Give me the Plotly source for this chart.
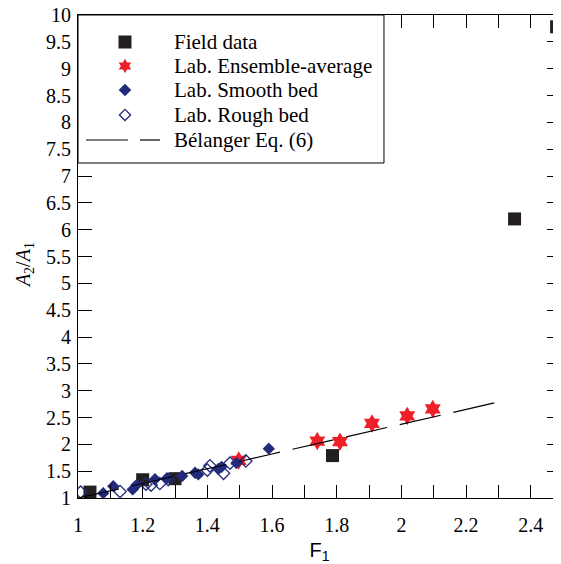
import math
import plotly.graph_objects as go

# ---- data ----
field_x = [1.037, 1.20, 1.30, 1.787, 2.35, 2.48]
field_y = [1.11, 1.34, 1.36, 1.79, 6.20, 9.78]

ens_x = [1.497, 1.74, 1.81, 1.909, 2.018, 2.097]
ens_y = [1.70, 2.06, 2.05, 2.39, 2.53, 2.66]

smooth_x = [1.078, 1.109, 1.169, 1.181, 1.238, 1.275, 1.322, 1.362, 1.372,
            1.434, 1.444, 1.490, 1.590]
smooth_y = [1.09, 1.22, 1.16, 1.24, 1.35, 1.37, 1.41, 1.47, 1.44,
            1.54, 1.58, 1.65, 1.92]

rough_x = [1.008, 1.130, 1.210, 1.226, 1.253, 1.279, 1.400, 1.408, 1.450,
           1.470, 1.519]
rough_y = [1.11, 1.12, 1.26, 1.24, 1.27, 1.34, 1.52, 1.60, 1.46,
           1.65, 1.69]

bel_x = [1.0, 1.1, 1.2, 1.3, 1.4, 1.5, 1.6, 1.7, 1.8, 1.9, 2.0, 2.1, 2.2, 2.3]
bel_y = [1.00, 1.13, 1.27, 1.41, 1.54, 1.68, 1.82, 1.96, 2.09, 2.23, 2.37,
         2.51, 2.65, 2.79]

x_tickvals = [1.0, 1.1, 1.2, 1.3, 1.4, 1.5, 1.6, 1.7, 1.8, 1.9, 2.0, 2.1,
              2.2, 2.3, 2.4]
x_ticktext = ["1", " ", "1.2", " ", "1.4", " ", "1.6", " ", "1.8", " ", "2", " ",
              "2.2", " ", "2.4"]

legend_names = ["Field data", "Lab. Ensemble-average", "Lab. Smooth bed",
                "Lab. Rough bed", "Bélanger Eq. (6)"]

NAVY = "#232a7c"
RED = "#ee1f26"
BLACK = "#231f20"
SERIF = "Liberation Serif, Times New Roman, DejaVu Serif, serif"
SANS = "Liberation Sans, Arial, sans-serif"

fig = go.Figure()
fig.add_trace(go.Scatter(x=field_x, y=field_y, mode="markers", name=legend_names[0],
                         cliponaxis=False,
                         marker=dict(symbol="square", size=13, color=BLACK)))
fig.add_trace(go.Scatter(x=ens_x, y=ens_y, mode="markers", name=legend_names[1],
                         marker=dict(symbol="hexagram", size=14, color=RED)))
fig.add_trace(go.Scatter(x=smooth_x, y=smooth_y, mode="markers", name=legend_names[2],
                         marker=dict(symbol="diamond", size=9.5, color=NAVY)))
fig.add_trace(go.Scatter(x=rough_x, y=rough_y, mode="markers", name=legend_names[3],
                         marker=dict(symbol="diamond-open", size=9.5, color=NAVY,
                                     line=dict(width=1.3, color=NAVY))))
fig.add_trace(go.Scatter(x=bel_x, y=bel_y, mode="lines", name=legend_names[4],
                         line=dict(color="black", width=1.2, dash="42px,13px")))

# ---- hand-drawn legend (box, glyphs, labels) ----
LX0, LX1, LY0, LY1 = 0.0, 0.6335, 0.6936, 1.0
row_y = [0.9441, 0.8944, 0.8447, 0.7930, 0.7412]
glyph_x = 0.0973
text_x = 0.1946

def hexagram_path(R):
    pts = []
    for k in range(12):
        ang = math.pi / 2 + k * math.pi / 6
        rad = R if k % 2 == 0 else R / math.sqrt(3)
        pts.append((rad * math.cos(ang), rad * math.sin(ang)))
    return "M" + " L".join(f"{x:.2f},{y:.2f}" for x, y in pts) + " Z"

def glyph(path, fill, line_color, line_width, y):
    return dict(type="path", path=path, xref="paper", yref="paper",
                xsizemode="pixel", ysizemode="pixel", xanchor=glyph_x, yanchor=y,
                fillcolor=fill, line=dict(color=line_color, width=line_width),
                layer="above")

shapes = [dict(type="rect", xref="paper", yref="paper", x0=LX0, x1=LX1, y0=LY0, y1=LY1,
               fillcolor="white", line=dict(color="black", width=1), layer="above")]
shapes.append(glyph("M-6.5,-6.5 L6.5,-6.5 L6.5,6.5 L-6.5,6.5 Z", BLACK, BLACK, 0, row_y[0]))
shapes.append(glyph(hexagram_path(7.2), RED, RED, 0, row_y[1]))
shapes.append(glyph("M0,-6.3 L6.3,0 L0,6.3 L-6.3,0 Z", NAVY, NAVY, 0, row_y[2]))
shapes.append(glyph("M0,-5.6 L5.6,0 L0,5.6 L-5.6,0 Z", "white", NAVY, 1.3, row_y[3]))
for xa, xb in [(0.0166, 0.1035), (0.1284, 0.1698)]:
    shapes.append(dict(type="line", xref="paper", yref="paper", x0=xa, x1=xb,
                       y0=row_y[4], y1=row_y[4], line=dict(color="black", width=1.2),
                       layer="above"))

annotations = [dict(text=name, xref="paper", yref="paper", x=text_x, y=yy,
                    xanchor="left", yanchor="middle", showarrow=False,
                    font=dict(family=SERIF, size=21, color="black"))
               for name, yy in zip(legend_names, row_y)]
annotations.append(dict(text="<i>A</i><sub>2</sub>/<i>A</i><sub>1</sub>",
                        xref="paper", yref="paper", x=-0.112, y=0.482,
                        xanchor="center", yanchor="middle", textangle=-90,
                        showarrow=False, font=dict(family=SERIF, size=20)))

fig.update_layout(
    width=553, height=556,
    margin=dict(l=70, r=0, t=7, b=66, autoexpand=False),
    paper_bgcolor="white", plot_bgcolor="white",
    font=dict(family=SERIF, size=20, color="black"),
    showlegend=False,
    shapes=shapes,
    annotations=annotations,
    xaxis=dict(range=[1, 2.4936], tickvals=x_tickvals, ticktext=x_ticktext,
               automargin=False, ticklabelstandoff=9, ticklabeloverflow="allow",
               ticks="inside", ticklen=13, tickcolor="black", tickwidth=1,
               showline=True, linecolor="black", linewidth=1, mirror="ticks",
               showgrid=False, zeroline=False,
               tickfont=dict(family=SERIF, size=20),
               title=dict(text="F<sub>1</sub>",
                          font=dict(family=SANS, size=20),
                          standoff=16)),
    yaxis=dict(range=[1, 10], dtick=0.5, tick0=1, automargin=False,
               ticklabelstandoff=2, ticklabeloverflow="allow",
               ticks="inside", ticklen=14, tickcolor="black", tickwidth=1,
               showline=True, linecolor="black", linewidth=1, mirror="ticks",
               showgrid=False, zeroline=False,
               tickfont=dict(family=SERIF, size=20)),
)

fig.write_html("out.html")
